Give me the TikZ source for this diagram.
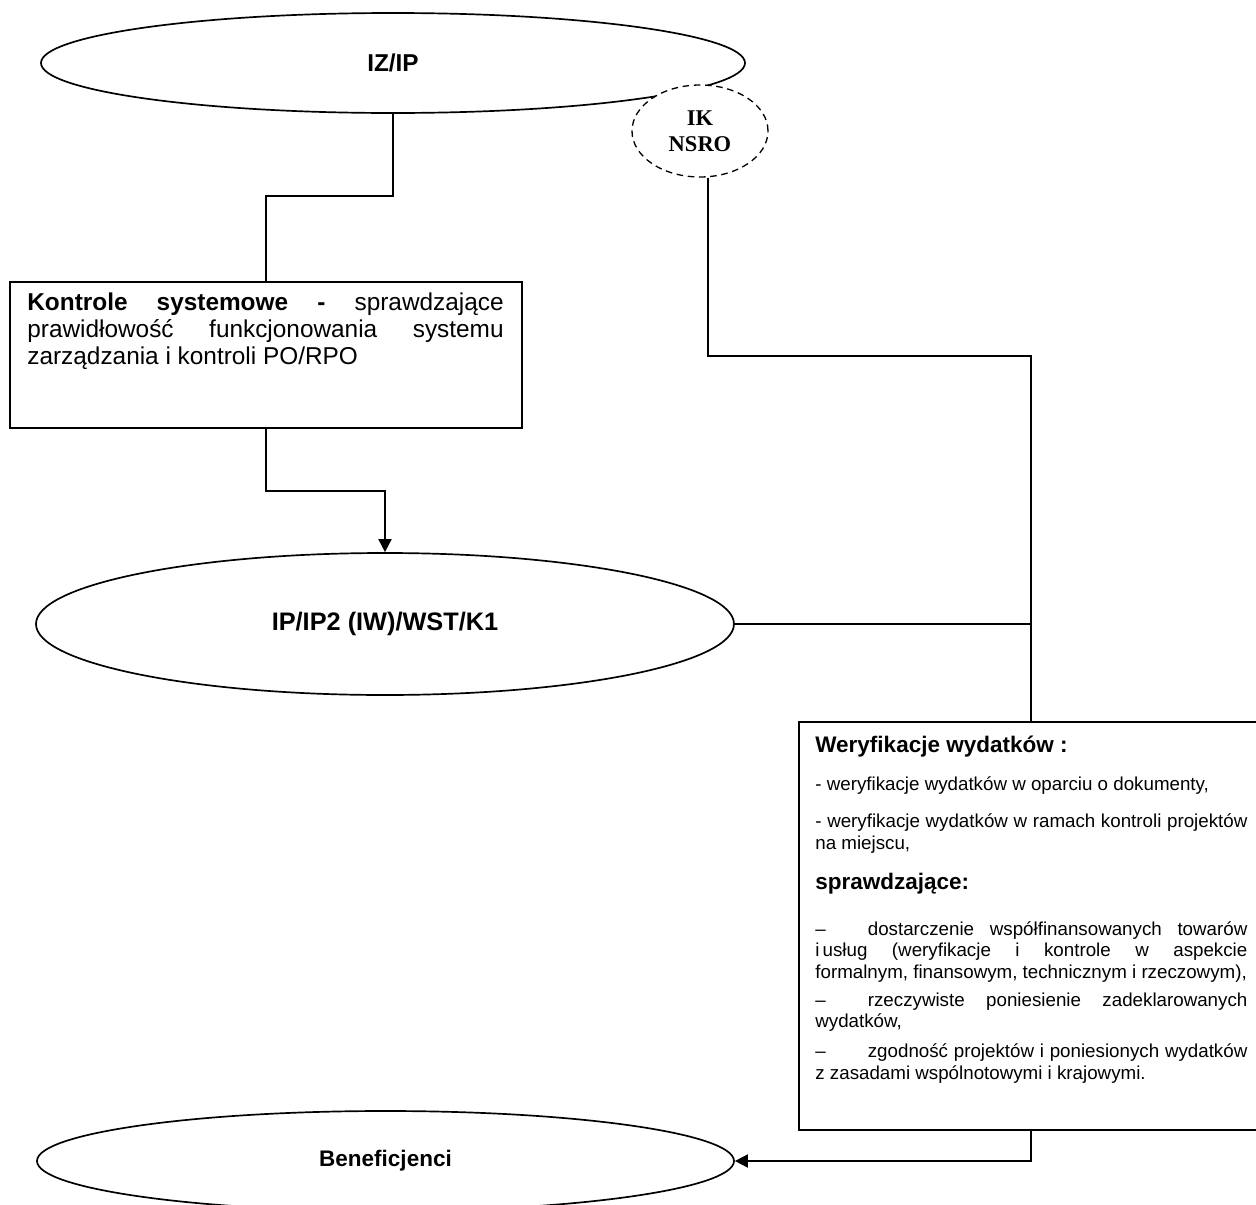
\documentclass[tikz,border=0pt]{standalone}
\usepackage{fontspec}
\setmainfont{Liberation Sans}
\newfontfamily\timesfont{Liberation Serif}
\usetikzlibrary{shapes.geometric,arrows.meta,positioning,calc}
\setlength{\parindent}{0pt}
\hyphenpenalty=10000
\tolerance=10000
\newdimen\px
\px=0.5333pt
\tikzset{
  oval/.style={draw, ellipse, line width=0.9pt, inner sep=0pt,
    font=\fontsize{12}{14}\selectfont\bfseries},
  frame/.style={draw, rectangle, line width=0.9pt, inner sep=0pt},
  textblock/.style={anchor=north west, inner sep=0pt, align=justify},
  link/.style={line width=0.9pt},
  flow/.style={line width=0.9pt, -{Triangle[length=7pt,width=7pt]}},
}

\begin{document}
\begin{tikzpicture}[x=1\px, y=-1\px]
    \path[use as bounding box, clip] (0,0) rectangle (1256,1205);
    % ellipses
    \node[oval, minimum width=704\px, minimum height=100\px,
      font=\fontsize{13}{15}\selectfont\bfseries] (iz) at (393,63) {IZ/IP};
    \node[oval, minimum width=698\px, minimum height=142\px,
      font=\fontsize{13.5}{15}\selectfont\bfseries] (ip) at (385,624) {IP/IP2 (IW)/WST/K1};
    \node[oval, minimum width=697\px, minimum height=100\px] (ben) at (385.5,1161) {Beneficjenci};
    % dashed IK NSRO on top of the first ellipse
    \node[oval, dashed, dash pattern=on 3.5pt off 2.5pt, line width=0.7pt, fill=white,
      minimum width=136\px, minimum height=92\px, align=center,
      font=\fontsize{12}{13.8}\selectfont\timesfont\bfseries] (ik) at (700,131) {IK\\NSRO};
    % system controls box
    \node[frame, minimum width=512\px, minimum height=146\px] (kon) at (266,355) {};
    \node[textblock, text width=254pt, font=\fontsize{13}{14.4}\selectfont] (kontxt) at (27,292)
      {\textbf{Kontrole systemowe -} sprawdzające\linebreak
       prawidłowość funkcjonowania systemu\linebreak
       zarządzania i kontroli PO/RPO};
    % expenditure verification box
    \node[frame, minimum width=464\px, minimum height=408\px] (wer) at (1031,926) {};
    \node[textblock, text width=230.4pt, font=\fontsize{10}{11.5}\selectfont] (wertxt) at (815,736)
      {{\fontsize{12}{13.8}\selectfont\bfseries Weryfikacje wydatków :\par}\vspace{8.8pt}
       - weryfikacje wydatków w oparciu o dokumenty,\par\vspace{8.2pt}
       - weryfikacje wydatków w ramach kontroli projektów\linebreak na miejscu,\par\vspace{7.5pt}
       {\fontsize{12}{13.8}\selectfont\bfseries sprawdzające:\par}\vspace{13pt}
       \makebox[28pt][l]{–}dostarczenie współfinansowanych towarów\linebreak
       i\,usług (weryfikacje i kontrole w aspekcie\linebreak
       formalnym, finansowym, technicznym i rzeczowym),\par\vspace{3.4pt}
       \makebox[28pt][l]{–}rzeczywiste poniesienie zadeklarowanych\linebreak
       wydatków,\par\vspace{4.5pt}
       \makebox[28pt][l]{–}zgodność projektów i poniesionych wydatków\linebreak
       z zasadami wspólnotowymi i krajowymi.};
    % connectors
    \draw[link] (iz.south) -- ++(0,82) -| (kon.north);
    \draw[flow] (kon.south) -- ++(0,62) -| (ip.north);
    \draw[link] ([xshift=8\px]ik.south) -- ++(0,178) -| (wer.north);
    \draw[link] (ip.east) -- (ip.east -| wer.north);
    \draw[flow] (wer.south) |- (ben.east);
\end{tikzpicture}
\end{document}
